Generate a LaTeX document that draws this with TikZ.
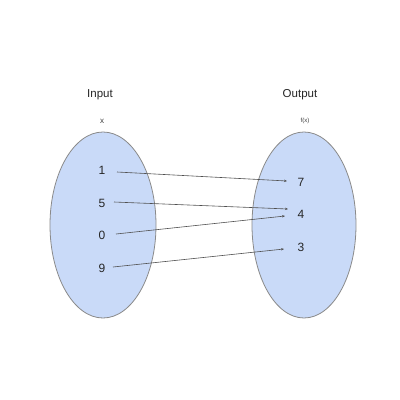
\documentclass[tikz,border=0pt]{standalone}
\usepackage{fontspec}
\setmainfont{Liberation Sans}
\usetikzlibrary{arrows.meta}
\definecolor{setfill}{HTML}{C9DAF8}
\definecolor{setdraw}{HTML}{8A8A8A}
\definecolor{linecol}{HTML}{505050}
\begin{document}
\begin{tikzpicture}[x=1pt,y=-1pt,
  setshape/.style={draw=setdraw,fill=setfill,line width=0.8pt},
  num/.style={font=\fontsize{12}{14}\selectfont,text=black!85,inner sep=1pt},
  title/.style={font=\fontsize{11.5}{13}\selectfont,text=black!85},
  maparrow/.style={draw=linecol,line width=0.6pt,-{Stealth[length=3pt,width=2.4pt]}}]
\useasboundingbox (0,0) rectangle (400,400);
\fill[white] (0,0) rectangle (400,400);
\draw[setshape] (103,225) ellipse [x radius=53, y radius=93];
\draw[setshape] (304,225) ellipse [x radius=52, y radius=93];
\node[title] (inp) at (100,95) {Input};
\node[title] (outp) at (300,95) {Output};
\node[font=\fontsize{8}{9}\selectfont,text=black!75] (xl) at (102,121) {x};
\node[font=\fontsize{6}{7}\selectfont,text=black!75] (fl) at (305,121) {f(x)};
\node[num] (n1) at (102,170) {1};
\node[num] (n5) at (102,203) {5};
\node[num] (n0) at (102,235) {0};
\node[num] (n9) at (102,268) {9};
\node[num] (m7) at (301,182) {7};
\node[num] (m4) at (301,214) {4};
\node[num] (m3) at (301,247) {3};
\coordinate (s1) at (117,172);
\coordinate (s5) at (114,202);
\coordinate (s0) at (116,234);
\coordinate (s9) at (113,267);
\coordinate (e7) at (287,181);
\coordinate (e4a) at (288,209);
\coordinate (e4b) at (285,216);
\coordinate (e3) at (284,249);
\draw[maparrow] (s1) -- (e7);
\draw[maparrow] (s5) -- (e4a);
\draw[maparrow] (s0) -- (e4b);
\draw[maparrow] (s9) -- (e3);
\end{tikzpicture}
\end{document}
